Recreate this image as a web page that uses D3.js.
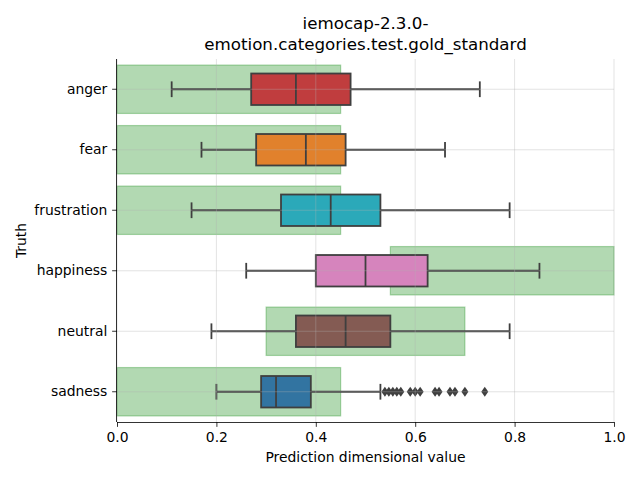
<!DOCTYPE html>
<html><head><meta charset="utf-8">
<script src="https://cdn.jsdelivr.net/npm/d3@7"></script>
<style>body{margin:0;background:#fff}svg{display:block;font-family:"DejaVu Sans",sans-serif}</style>
</head><body><svg id="c" width="640" height="480"></svg>
<script>
const categories = ["anger","fear","frustration","happiness","neutral","sadness"];
const whiskerLow  = [0.11, 0.17, 0.15, 0.26, 0.19, 0.20];
const q1          = [0.27, 0.28, 0.33, 0.40, 0.36, 0.29];
const median      = [0.36, 0.38, 0.43, 0.50, 0.46, 0.32];
const q3          = [0.47, 0.46, 0.53, 0.625, 0.55, 0.39];
const whiskerHigh = [0.73, 0.66, 0.79, 0.85, 0.79, 0.53];
const sadnessOutliers = [0.539,0.547,0.555,0.563,0.571,0.59,0.60,0.61,0.64,0.648,0.67,0.68,0.70,0.74];
const goldLow  = [0, 0, 0, 0.55, 0.30, 0];
const goldHigh = [0.45, 0.45, 0.45, 1.0, 0.70, 0.45];
const boxColors = ["#c03d3e","#e1812c","#2ba9b9","#d684bd","#845b53","#3274a1"];
const xTicks = [0,0.2,0.4,0.6,0.8,1.0];

const svg = d3.select("#c");
const L=117, R=614, T=59, B=422;
const x = d3.scaleLinear().domain([0,1]).range([L,R]);
const y = d3.scaleBand().domain(categories).range([T,B]);
const bw = y.bandwidth();
const lc = "#3f3f3f";
const lw = 1.8;

// gold standard ranges
svg.append("g").selectAll("rect").data(categories).join("rect")
  .attr("x",(d,i)=>x(goldLow[i])).attr("width",(d,i)=>x(goldHigh[i])-x(goldLow[i]))
  .attr("y",d=>y(d)+bw*0.1).attr("height",bw*0.8)
  .attr("fill","green").attr("fill-opacity",0.3)
  .attr("stroke","green").attr("stroke-opacity",0.3).attr("stroke-width",1.2);

// boxes
const g = svg.append("g");
categories.forEach((c,i)=>{
  const cy = y(c)+bw/2, h = bw*0.52;
  g.append("line").attr("x1",x(whiskerLow[i])).attr("x2",x(q1[i])).attr("y1",cy).attr("y2",cy).attr("stroke",lc).attr("stroke-width",lw);
  g.append("line").attr("x1",x(q3[i])).attr("x2",x(whiskerHigh[i])).attr("y1",cy).attr("y2",cy).attr("stroke",lc).attr("stroke-width",lw);
  [whiskerLow[i],whiskerHigh[i]].forEach(v=>g.append("line").attr("x1",x(v)).attr("x2",x(v)).attr("y1",cy-h/4).attr("y2",cy+h/4).attr("stroke",lc).attr("stroke-width",lw));
  g.append("rect").attr("x",x(q1[i])).attr("width",x(q3[i])-x(q1[i])).attr("y",cy-h/2).attr("height",h)
    .attr("fill",boxColors[i]).attr("stroke",lc).attr("stroke-width",lw);
  g.append("line").attr("x1",x(median[i])).attr("x2",x(median[i])).attr("y1",cy-h/2).attr("y2",cy+h/2).attr("stroke",lc).attr("stroke-width",lw);
});
const sy = y("sadness")+bw/2;
g.selectAll("path.o").data(sadnessOutliers).join("path").attr("class","o")
  .attr("d",d=>`M${x(d)},${sy-5}L${x(d)+3.5},${sy}L${x(d)},${sy+5}L${x(d)-3.5},${sy}Z`)
  .attr("fill",lc);

// grid on top
const grid = svg.append("g").attr("stroke","#b0b0b0").attr("stroke-opacity",0.45).attr("stroke-width",0.8);
xTicks.forEach(t=>grid.append("line").attr("x1",x(t)).attr("x2",x(t)).attr("y1",T).attr("y2",B));
categories.forEach(c=>grid.append("line").attr("x1",L).attr("x2",R).attr("y1",y(c)+bw/2).attr("y2",y(c)+bw/2));

// axes
const xa = svg.append("g").attr("transform",`translate(0,${B})`)
  .call(d3.axisBottom(x).tickValues(xTicks).tickFormat(d3.format(".1f")).tickSize(4.86).tickPadding(4.86));
const ya = svg.append("g").attr("transform",`translate(${L},0)`)
  .call(d3.axisLeft(y).tickSize(4.86).tickPadding(4.86));
[xa,ya].forEach(a=>{
  a.selectAll("text").attr("font-size","13.9px").attr("font-family","DejaVu Sans").attr("fill","#000");
  a.selectAll("line").attr("stroke","#000").attr("stroke-width",0.8);
  a.select(".domain").attr("stroke","#000").attr("stroke-width",0.8);
});
xa.select(".domain").attr("d",`M${L},0.5H${R}`);
ya.select(".domain").attr("d",`M-0.5,${T}V${B}`);

svg.append("text").attr("x",(L+R)/2).attr("y",462).attr("text-anchor","middle").attr("font-size","13.9px").text("Prediction dimensional value");
svg.append("text").attr("transform",`translate(26,${(T+B)/2}) rotate(-90)`).attr("text-anchor","middle").attr("font-size","13.9px").text("Truth");
const title = svg.append("text").attr("text-anchor","middle").attr("font-size","16.7px");
title.append("tspan").attr("x",(L+R)/2).attr("y",29).text("iemocap-2.3.0-");
title.append("tspan").attr("x",(L+R)/2).attr("y",50).text("emotion.categories.test.gold_standard");
</script></body></html>
